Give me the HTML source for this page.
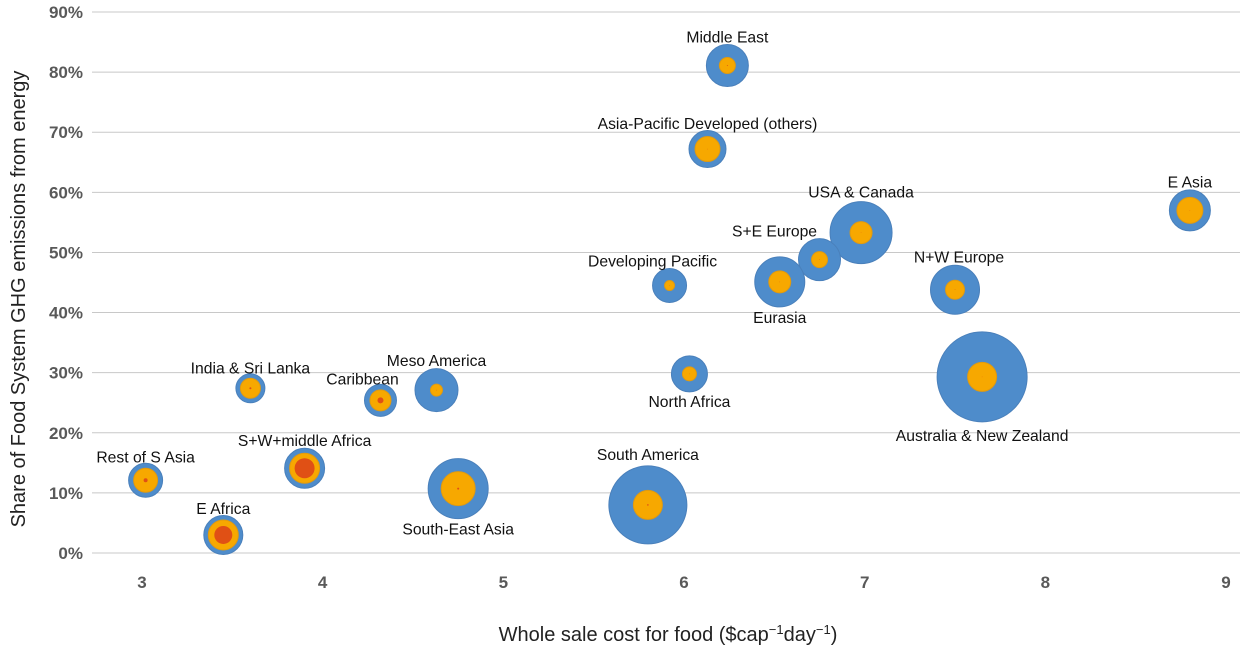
<!DOCTYPE html>
<html><head><meta charset="utf-8"><style>
html,body{margin:0;padding:0;background:#fff;}
svg{display:block;font-family:"Liberation Sans",Arial,sans-serif;}
</style></head><body>
<svg id="chart" width="1253" height="659" viewBox="0 0 1253 659" xmlns="http://www.w3.org/2000/svg">
<g id="grid"></g>
<g id="yticks"></g>
<g id="xticks"></g>
<g id="bubbles"></g>
<g id="labels"></g>
<text x="668" y="641" text-anchor="middle" font-size="20" fill="#222">Whole sale cost for food ($cap<tspan baseline-shift="super" font-size="13">−1</tspan>day<tspan baseline-shift="super" font-size="13">−1</tspan>)</text>
<text transform="translate(25,299) rotate(-90)" text-anchor="middle" font-size="20" fill="#222">Share of Food System GHG emissions from energy</text>
</svg>
<script>
const regions=["Middle East","Asia-Pacific Developed (others)","E Asia","USA & Canada","S+E Europe","Eurasia","Developing Pacific","N+W Europe","North Africa","Australia & New Zealand","Meso America","India & Sri Lanka","Caribbean","S+W+middle Africa","Rest of S Asia","South-East Asia","South America","E Africa"];
const costs=[6.24,6.13,8.80,6.98,6.75,6.53,5.92,7.50,6.03,7.65,4.63,3.60,4.32,3.90,3.02,4.75,5.80,3.45];
const shares=[81.1,67.2,57.0,53.3,48.8,45.1,44.5,43.8,29.8,29.3,27.1,27.4,25.4,14.1,12.1,10.7,8.0,3.0];
const blueSize=[21,18.5,20.5,31,21,25,17,24.5,18,45,21.5,14.5,16,20,17,30,39,19.5];
const orangeSize=[8,12.5,13,11,8,11,5,9.5,7,14.5,6,10,10.5,15,12,17,14.5,15];
const redSize=[0.5,0.3,0.3,0.3,0.3,0.3,0.3,0.3,0.3,0.3,0.3,1,3,10,2,1,0.8,9];
const labelDx=[0,0,0,0,-45,0,-17,4,0,0,0,0,-18,0,0,0,0,0];
const labelDy=[-23,-20,-23,-35,-23,41,-19,-27,33,64,-24,-15,-16,-22,-18,46,-45,-21];
const yTicks=[0,10,20,30,40,50,60,70,80,90];
const xTicks=[3,4,5,6,7,8,9];
const NS="http://www.w3.org/2000/svg";
const X=v=>142+(v-3)*180.67;
const Y=v=>553-v*6.011;
function mk(t,a,p){const e=document.createElementNS(NS,t);for(const k in a)e.setAttribute(k,a[k]);p.appendChild(e);return e;}
const grid=document.getElementById('grid'),yt=document.getElementById('yticks'),xt=document.getElementById('xticks'),bb=document.getElementById('bubbles'),lb=document.getElementById('labels');
yTicks.forEach(v=>{
 const l=mk('line',{x1:92,x2:1240,y1:Y(v),y2:Y(v),stroke:'#c8c8c8','stroke-width':1},grid);
 
 
 const t=mk('text',{x:83,y:Y(v)+6,'text-anchor':'end','font-size':17,'font-weight':'bold',fill:'#595959'},yt);
 t.textContent=v+'%';
 
 
});
xTicks.forEach(v=>{
 const t=mk('text',{x:X(v),y:588,'text-anchor':'middle','font-size':17,'font-weight':'bold',fill:'#595959'},xt);
 t.textContent=v;
 
 
});
regions.forEach((r,i)=>{
 const cx=X(costs[i]),cy=Y(shares[i]);
 const g=mk('g',{},bb);
 
 
 mk('circle',{cx:cx,cy:cy,r:blueSize[i],fill:'#4e8ccb',stroke:'#4a80bb','stroke-width':1},g);
 mk('circle',{cx:cx,cy:cy,r:orangeSize[i],fill:'#f7a800',stroke:'#e09a10','stroke-width':1},g);
 mk('circle',{cx:cx,cy:cy,r:redSize[i],fill:'#e05015'},g);
 const t=mk('text',{x:cx+labelDx[i],y:cy+labelDy[i],'text-anchor':'middle','font-size':15.7,fill:'#111'},lb);
 t.textContent=r;
 
 
});
</script>
</body></html>
